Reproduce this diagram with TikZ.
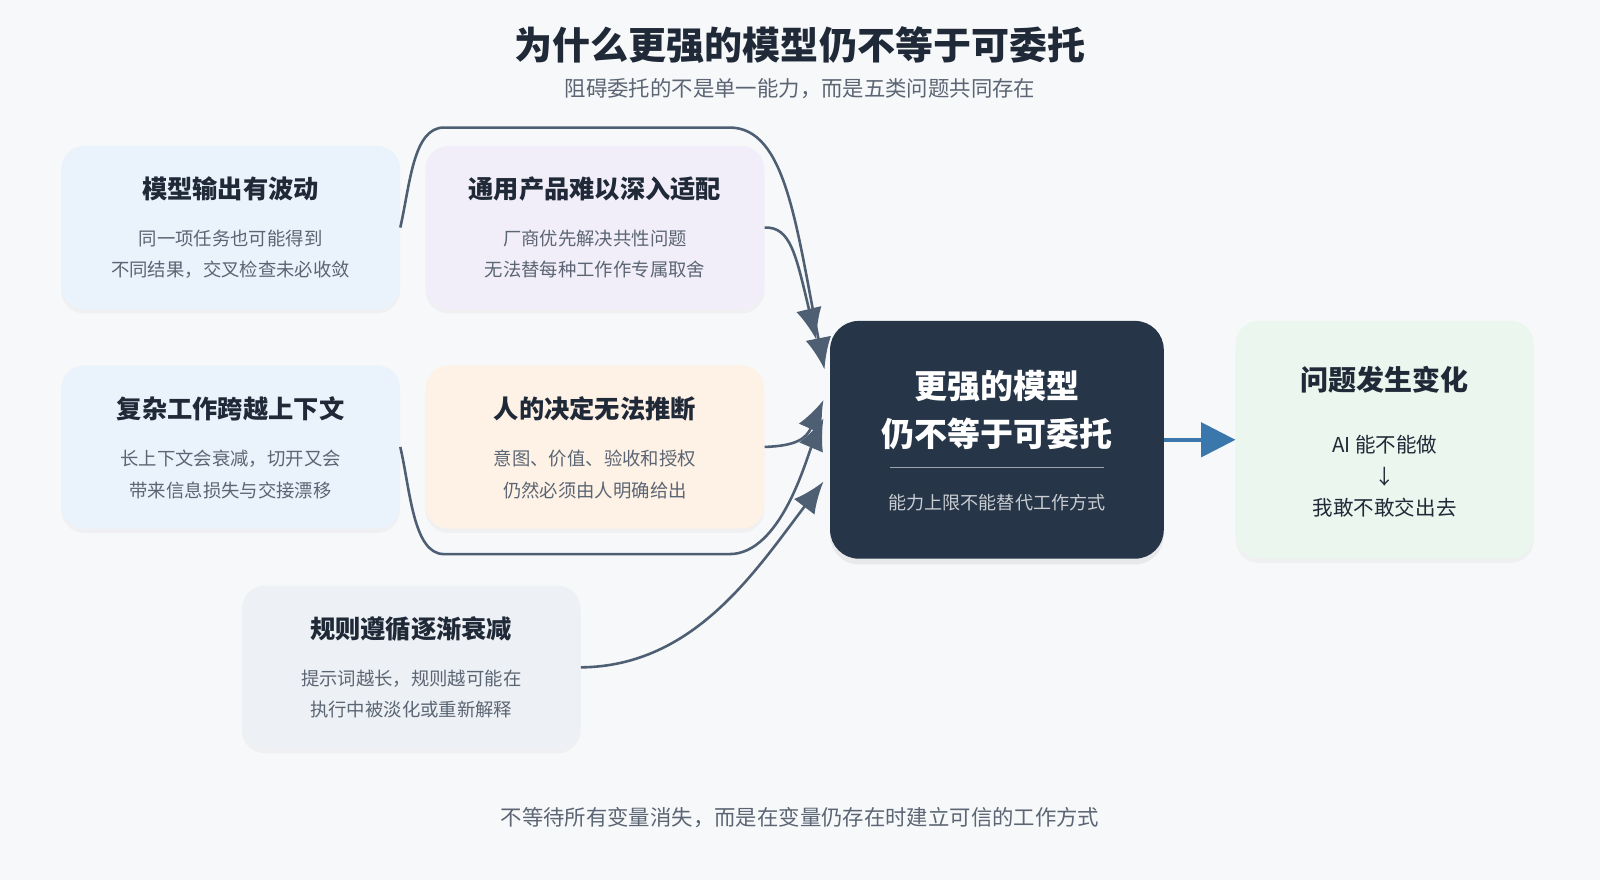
\documentclass[tikz,border=0pt]{standalone}
\usepackage{fontspec}
\setmainfont{Noto Sans CJK SC}
\usetikzlibrary{positioning,calc,arrows.meta,shadows}
\definecolor{bgcol}{HTML}{F7F8FA}
\definecolor{inkcol}{HTML}{1F2937}
\definecolor{greycol}{HTML}{5B6573}
\definecolor{linkcol}{HTML}{4F5F73}
\definecolor{bluebox}{HTML}{EAF3FC}
\definecolor{lilacbox}{HTML}{F2EEF9}
\definecolor{peachbox}{HTML}{FEF2E6}
\definecolor{greybox}{HTML}{EDF0F4}
\definecolor{greenbox}{HTML}{EAF6EE}
\definecolor{navycol}{HTML}{263548}
\definecolor{arrowcol}{HTML}{3A77AD}

\tikzset{
  card/.style={rounded corners=16pt, minimum width=332*0.025cm, minimum height=160*0.025cm,
    draw=none, drop shadow={opacity=0.06, shadow xshift=0pt, shadow yshift=-3pt}},
  head/.style={font=\fontsize{17.6}{20}\selectfont\bfseries, text=inkcol},
  body/.style={font=\fontsize{12.8}{22}\selectfont, text=greycol, align=center},
  link/.style={draw=linkcol, line width=1.8pt, -{Latex[length=22pt,width=18pt]}},
}

\begin{document}
\begin{tikzpicture}[x=0.025cm,y=-0.025cm]
  \fill[bgcol] (0,0) rectangle (1568,862);

  % Title
  \node[font=\fontsize{26.5}{30}\selectfont\bfseries, text=inkcol] (title) at (784,44) {为什么更强的模型仍不等于可委托};
  \node[font=\fontsize{14.9}{17}\selectfont, text=greycol] (subtitle) at (784,87) {阻碍委托的不是单一能力，而是五类问题共同存在};

  % Cards
  \node[card, fill=bluebox] (output) at (226,223) {};
  \node[head] (outputh) at (226,185) {模型输出有波动};
  \node[body] (outputb) at (226,249) {同一项任务也可能得到\\不同结果，交叉检查未必收敛};

  \node[card, fill=lilacbox] (product) at (583,223) {};
  \node[head] (producth) at (583,185) {通用产品难以深入适配};
  \node[body] (productb) at (583,249) {厂商优先解决共性问题\\无法替每种工作作专属取舍};

  \node[card, fill=bluebox] (context) at (226,438) {};
  \node[head] (contexth) at (226,401) {复杂工作跨越上下文};
  \node[body] (contextb) at (226,465) {长上下文会衰减，切开又会\\带来信息损失与交接漂移};

  \node[card, fill=peachbox] (human) at (583,438) {};
  \node[head] (humanh) at (583,401) {人的决定无法推断};
  \node[body] (humanb) at (583,465) {意图、价值、验收和授权\\仍然必须由人明确给出};

  \node[card, fill=greybox] (rules) at (403,654) {};
  \node[head] (rulesh) at (403,616) {规则遵循逐渐衰减};
  \node[body] (rulesb) at (403,680) {提示词越长，规则越可能在\\执行中被淡化或重新解释};

  % Centre
  \node[rounded corners=20pt, fill=navycol, minimum width=327*0.025cm, minimum height=233*0.025cm,
    drop shadow={opacity=0.12, shadow xshift=0pt, shadow yshift=-4pt}] (core) at (977,431) {};
  \node[font=\fontsize{23}{33}\selectfont\bfseries, text=white, align=center] (coreh) at (977,402) {更强的模型\\仍不等于可委托};
  \draw[white!55!navycol, line width=0.8pt] (872,458) -- (1082,458);
  \node[font=\fontsize{12.6}{15}\selectfont, text=white!75!navycol] (coreb) at (977,493) {能力上限不能替代工作方式};

  % Result
  \node[card, fill=greenbox, minimum width=292*0.025cm, minimum height=233*0.025cm] (shift) at (1357,431) {};
  \node[head, font=\fontsize{19.5}{22}\selectfont\bfseries] (shifth) at (1357,372) {问题发生变化};
  \node[font=\fontsize{14.3}{17}\selectfont, text=inkcol, align=center] (shiftb) at (1357,467) {AI 能不能做\\[5pt]↓\\[5pt]我敢不敢交出去};

  % Connectors
  \coordinate (in1) at (808,362);
  \coordinate (in2) at (800,333);
  \coordinate (in3) at (807,392);
  \coordinate (in4) at (807,410);
  \coordinate (in5) at (807,472);
  \draw[link] (output.east) .. controls (402,180) and (405,125) .. (435,125)
     -- (715,125) .. controls (770,125) and (780,220) .. (in1);
  \draw[link] (product.east) .. controls (775,222) and (780,250) .. (in2);
  \draw[link] (human.east) .. controls (780,437) and (790,430) .. (in3);
  \draw[link] (context.east) .. controls (402,480) and (405,543) .. (435,543)
     -- (715,543) .. controls (765,543) and (790,450) .. (in4);
  \draw[link] (rules.east) .. controls (680,653) and (740,560) .. (in5);
  \draw[draw=arrowcol, line width=2.5pt, -{Triangle[length=24pt,width=24pt]}] (core.east) -- (shift.west);

  % Footer
  \node[font=\fontsize{14.9}{17}\selectfont, text=greycol] (footer) at (784,801) {不等待所有变量消失，而是在变量仍存在时建立可信的工作方式};

  \pgfresetboundingbox
  \useasboundingbox (0,0) rectangle (1568,862);
\end{tikzpicture}
\end{document}
